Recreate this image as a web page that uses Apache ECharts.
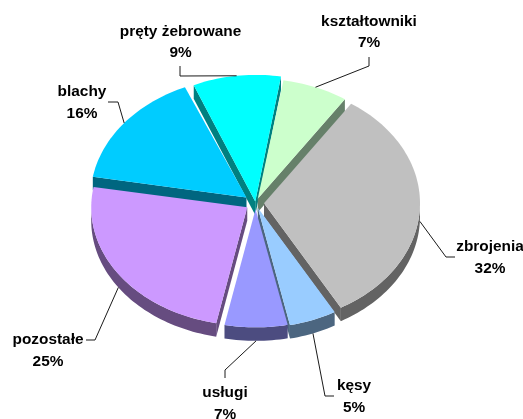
<!DOCTYPE html>
<html>
<head>
<meta charset="utf-8">
<style>html,body{margin:0;padding:0;background:#fff}#chart{width:523px;height:419px}</style>
<script src="https://cdn.jsdelivr.net/npm/echarts@6/dist/echarts.min.js"></script>
</head>
<body>
<div id="chart"></div>
<script>
// Product shares in percent, clockwise from the first slice; labels show them rounded
const categories = ['kształtowniki', 'zbrojenia', 'kęsy', 'usługi', 'pozostałe', 'blachy', 'pręty żebrowane'];
const shares = [6.8, 32.4, 4.9, 6.5, 24.6, 15.8, 9.1];
const topColors = ['#CCFFCC', '#C0C0C0', '#99CCFF', '#9999FF', '#CC99FF', '#00CCFF', '#00FFFF'];
const sideColors = ['#66806A', '#636363', '#4C6680', '#4C4C80', '#664C80', '#006680', '#008080'];

// Tilted-disc layout
const centerX = 255.5, centerY = 203, radiusX = 156, radiusY = 120, depth = 13.5;
const startAngle = 9.5;
const explode = [6, 8.5, 6.5, 8, 10, 11.5, 2];
const rimStretch = [1, 1, 1, 0.985, 0.985, 1, 1.055];

// Label centres and the leader-line bends running to each label
const labelCentres = [[369, 32], [490, 257.5], [354, 396.5], [225, 403.5], [48, 350.5], [82, 102.5], [180.5, 42]];
const leaderBends = [
  [[369, 66], [369, 57]],
  [[446, 257], [455, 257]],
  [[325, 396], [334, 396]],
  [[225, 370], [225, 378]],
  [[95, 340], [86, 340]],
  [[118, 102], [108, 102]],
  [[180, 76], [180, 66]]
];

const total = shares.reduce((a, b) => a + b, 0);
const rad = d => d * Math.PI / 180;

function sliceGeometry(i) {
  const before = shares.slice(0, i).reduce((a, b) => a + b, 0);
  const a0 = startAngle + before / total * 360;
  const a1 = a0 + shares[i] / total * 360;
  const mid = rad((a0 + a1) / 2);
  const apex = [
    centerX + Math.sin(mid) * explode[i],
    centerY - Math.cos(mid) * explode[i] * radiusY / radiusX
  ];
  const rim = a => {
    const y = -Math.cos(rad(a)) * radiusY;
    return [apex[0] + Math.sin(rad(a)) * radiusX, apex[1] + y * rimStretch[i]];
  };
  return { a0, a1, apex, rim, midDeg: (a0 + a1) / 2 };
}

function arcPoints(g, from, to) {
  const n = Math.max(2, Math.ceil(Math.abs(to - from) / 1.5));
  const pts = [];
  for (let k = 0; k <= n; k++) pts.push(g.rim(from + (to - from) * k / n));
  return pts;
}
const down = p => [p[0], p[1] + depth];

function renderSlice(params, api) {
  const i = api.value(0);
  const g = sliceGeometry(i);
  const side = { fill: sideColors[i] };
  const top = { fill: topColors[i] };
  const children = [];
  const poly = (points, style) => children.push({ type: 'polygon', shape: { points }, style });

  // Cut faces, visible only when they turn toward the viewer
  if (Math.sin(rad(g.a0)) < 0) {
    const r = g.rim(g.a0);
    poly([g.apex, r, down(r), down(g.apex)], side);
  }
  if (Math.sin(rad(g.a1)) > 0) {
    const r = g.rim(g.a1);
    poly([g.apex, r, down(r), down(g.apex)], side);
  }
  // Outer wall along the near half of the rim
  const from = Math.max(g.a0, 90), to = Math.min(g.a1, 270);
  if (to > from) {
    const arc = arcPoints(g, from, to);
    poly(arc.concat(arc.slice().reverse().map(down)), side);
  }
  poly([g.apex].concat(arcPoints(g, g.a0, g.a1)), top);
  return { type: 'group', children };
}

function renderLabel(params, api) {
  const i = api.value(0);
  const g = sliceGeometry(i);
  const m = g.midDeg % 360;
  let start = g.rim(m);
  if (m > 87 && m < 270) start = down(start);
  const c = labelCentres[i];
  return {
    type: 'group',
    children: [
      {
        type: 'polyline',
        shape: { points: [start].concat(leaderBends[i]) },
        style: { fill: null, stroke: '#1a1a1a', lineWidth: 1 }
      },
      {
        type: 'text',
        x: c[0], y: c[1],
        style: {
          text: categories[i] + '\n' + Math.round(shares[i]) + '%',
          align: 'center', verticalAlign: 'middle',
          font: 'bold 15.4px "Liberation Sans", Arial, sans-serif',
          lineHeight: 21.5,
          fill: '#000'
        }
      }
    ]
  };
}

// Paint back slices first so nearer walls overlap them
const paintOrder = categories.map((_, i) => i)
  .sort((a, b) => -Math.cos(rad(sliceGeometry(a).midDeg)) + Math.cos(rad(sliceGeometry(b).midDeg)));

const chart = echarts.init(document.getElementById('chart'), null, { renderer: 'canvas' });
chart.setOption({
  animation: false,
  backgroundColor: '#fff',
  series: [
    { type: 'custom', coordinateSystem: 'none', silent: true, renderItem: renderSlice,
      data: paintOrder.map(i => [i, shares[i]]) },
    { type: 'custom', coordinateSystem: 'none', silent: true, renderItem: renderLabel,
      data: categories.map((_, i) => [i, shares[i]]) }
  ]
});
</script>
</body>
</html>
